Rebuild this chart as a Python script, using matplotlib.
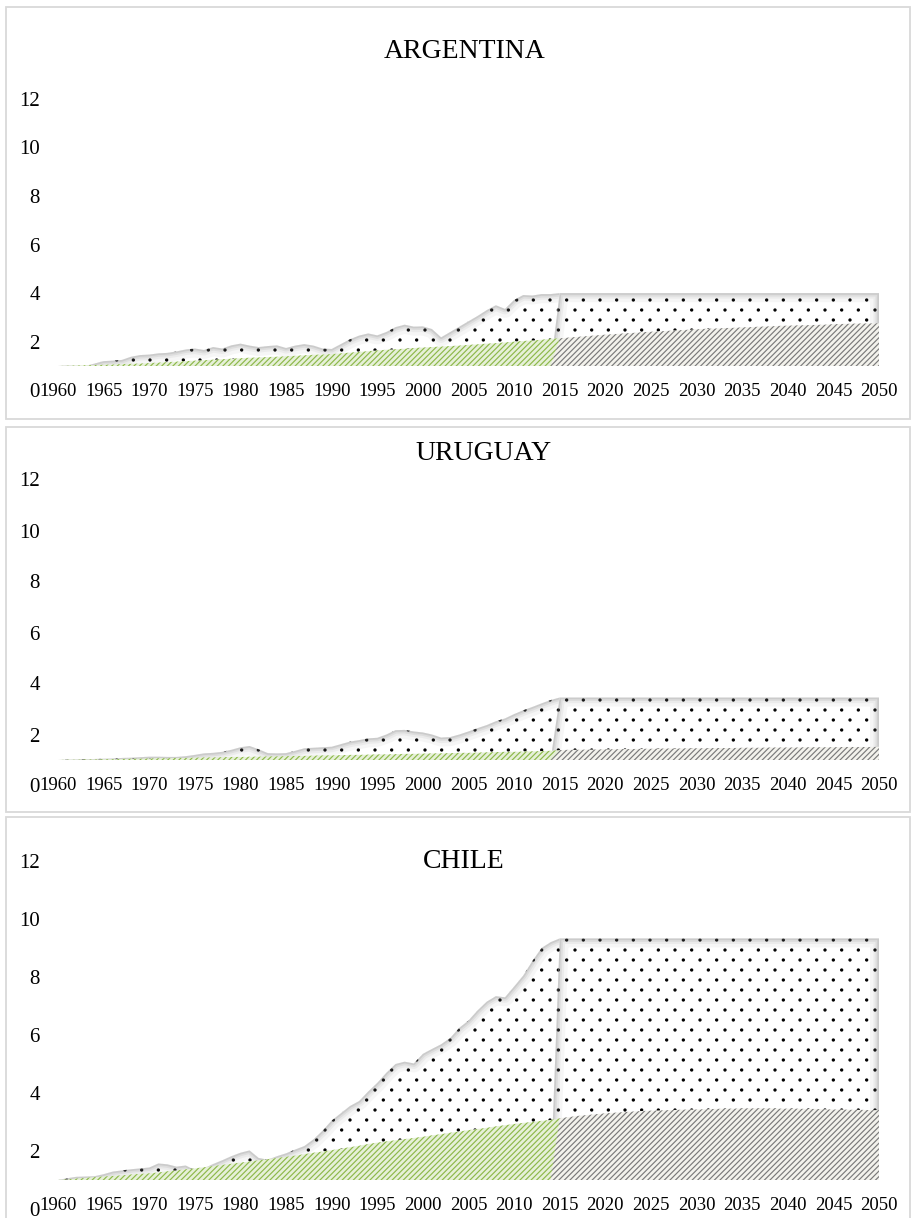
import matplotlib
matplotlib.use("Agg")
import numpy as np
import matplotlib.pyplot as plt
import matplotlib.hatch as mhatch
from matplotlib.path import Path
from matplotlib.patches import Rectangle

plt.rcParams['font.family'] = ['Liberation Serif', 'DejaVu Serif']
plt.rcParams['hatch.linewidth'] = 0.85


# Excel-like "dotted" texture: staggered rows of small dots (rows denser than columns)
class StaggeredDots(mhatch.HatchPatternBase):
    rows = 10
    cols = 6
    radius = 0.0105

    def __init__(self, hatch, density):
        circ = Path.unit_circle()
        self.sv = circ.vertices * self.radius
        self.sc = circ.codes
        self.centers = []
        if hatch.count('.') > 0:
            for r in range(self.rows + 1):
                yy = r / self.rows
                if r % 2 == 0:
                    xs = np.arange(self.cols + 1) / self.cols
                else:
                    xs = (np.arange(self.cols) + 0.5) / self.cols
                for xx in xs:
                    self.centers.append((xx, yy))
        self.num_vertices = len(self.centers) * len(self.sv)

    def set_vertices_and_codes(self, vertices, codes):
        np.concatenate([self.sv + np.array(c) for c in self.centers], out=vertices)
        np.concatenate([self.sc for _ in self.centers], out=codes)


mhatch._hatch_types = [t for t in mhatch._hatch_types
                       if t is not mhatch.SmallFilledCircles] + [StaggeredDots]

# ---------------- data ----------------
hist_years = list(range(1960, 2015))
proj_years = list(range(2015, 2051))
tick_years = list(range(1960, 2051, 5))
y_ticks = [0, 2, 4, 6, 8, 10, 12]
countries = ["ARGENTINA", "URUGUAY", "CHILE"]
base_value = 1.0

arg_total = [1.00, 1.02, 1.01, 1.00, 1.10, 1.20, 1.22, 1.25, 1.38, 1.45,
             1.47, 1.52, 1.54, 1.60, 1.68, 1.72, 1.66, 1.78, 1.72, 1.85,
             1.92, 1.84, 1.78, 1.82, 1.85, 1.74, 1.84, 1.90, 1.84, 1.72,
             1.70, 1.90, 2.10, 2.25, 2.34, 2.26, 2.40, 2.60, 2.70, 2.62,
             2.63, 2.52, 2.18, 2.40, 2.62, 2.84, 3.06, 3.30, 3.50, 3.35,
             3.72, 3.92, 3.90, 3.96, 3.96]
arg_part = [1.00, 1.01, 1.02, 1.03, 1.04, 1.05, 1.06, 1.08, 1.09, 1.10,
            1.12, 1.14, 1.16, 1.18, 1.20, 1.22, 1.24, 1.26, 1.28, 1.30,
            1.32, 1.34, 1.35, 1.37, 1.38, 1.40, 1.42, 1.44, 1.46, 1.47,
            1.49, 1.52, 1.55, 1.58, 1.61, 1.64, 1.67, 1.69, 1.71, 1.74,
            1.76, 1.78, 1.80, 1.82, 1.84, 1.87, 1.89, 1.92, 1.94, 1.97,
            2.00, 2.03, 2.05, 2.08, 2.12]
arg_total_proj = [4.00, 4.00, 4.00, 4.00, 4.00, 4.00, 4.00, 4.00, 4.00, 4.00,
                  4.00, 4.00, 4.00, 4.00, 4.00, 4.00, 4.00, 4.00, 4.00, 4.00,
                  4.00, 4.00, 4.00, 4.00, 4.00, 4.00, 4.00, 4.00, 4.00, 4.00,
                  4.00, 4.00, 4.00, 4.00, 4.00, 4.00]
arg_part_proj = [2.14, 2.17, 2.20, 2.23, 2.26, 2.29, 2.31, 2.34, 2.36, 2.39,
                 2.41, 2.43, 2.45, 2.47, 2.49, 2.51, 2.53, 2.54, 2.56, 2.57,
                 2.59, 2.60, 2.62, 2.63, 2.65, 2.66, 2.67, 2.68, 2.69, 2.70,
                 2.72, 2.73, 2.74, 2.75, 2.75, 2.76]

uru_total = [1.00, 1.01, 1.02, 1.03, 1.04, 1.05, 1.06, 1.08, 1.09, 1.11,
             1.13, 1.13, 1.12, 1.12, 1.15, 1.20, 1.26, 1.28, 1.32, 1.40,
             1.50, 1.55, 1.42, 1.27, 1.26, 1.27, 1.36, 1.46, 1.48, 1.50,
             1.52, 1.62, 1.72, 1.78, 1.85, 1.87, 2.00, 2.17, 2.18, 2.12,
             2.08, 2.00, 1.88, 1.90, 2.00, 2.12, 2.25, 2.37, 2.52, 2.63,
             2.80, 2.95, 3.08, 3.22, 3.35]
uru_part = [1.00, 1.01, 1.01, 1.02, 1.02, 1.03, 1.03, 1.04, 1.05, 1.05,
            1.06, 1.07, 1.07, 1.08, 1.08, 1.09, 1.10, 1.10, 1.11, 1.12,
            1.12, 1.13, 1.13, 1.14, 1.14, 1.15, 1.16, 1.16, 1.17, 1.18,
            1.18, 1.19, 1.20, 1.20, 1.21, 1.22, 1.22, 1.23, 1.24, 1.24,
            1.25, 1.26, 1.26, 1.27, 1.28, 1.28, 1.29, 1.30, 1.31, 1.32,
            1.32, 1.33, 1.34, 1.35, 1.36]
uru_total_proj = [3.45, 3.45, 3.45, 3.45, 3.45, 3.45, 3.45, 3.45, 3.45, 3.45,
                  3.45, 3.45, 3.45, 3.45, 3.45, 3.45, 3.45, 3.45, 3.45, 3.45,
                  3.45, 3.45, 3.45, 3.45, 3.45, 3.45, 3.45, 3.45, 3.45, 3.45,
                  3.45, 3.45, 3.45, 3.45, 3.45, 3.45]
uru_part_proj = [1.39, 1.40, 1.40, 1.41, 1.41, 1.42, 1.42, 1.43, 1.43, 1.44,
                 1.44, 1.45, 1.45, 1.45, 1.46, 1.46, 1.46, 1.47, 1.47, 1.47,
                 1.48, 1.48, 1.48, 1.49, 1.49, 1.49, 1.49, 1.50, 1.50, 1.50,
                 1.50, 1.51, 1.51, 1.51, 1.51, 1.52]

chl_total = [1.00, 1.06, 1.11, 1.12, 1.13, 1.20, 1.29, 1.33, 1.37, 1.40,
             1.43, 1.57, 1.54, 1.46, 1.50, 1.34, 1.40, 1.55, 1.68, 1.82,
             1.94, 2.02, 1.76, 1.70, 1.82, 1.92, 2.05, 2.17, 2.40, 2.70,
             3.05, 3.30, 3.55, 3.72, 4.05, 4.35, 4.70, 5.00, 5.08, 5.02,
             5.35, 5.52, 5.68, 5.90, 6.25, 6.50, 6.85, 7.15, 7.34, 7.30,
             7.67, 8.05, 8.55, 9.00, 9.20]
chl_part = [1.00, 1.02, 1.05, 1.07, 1.10, 1.12, 1.14, 1.16, 1.19, 1.21,
            1.23, 1.26, 1.30, 1.33, 1.37, 1.40, 1.44, 1.48, 1.52, 1.56,
            1.60, 1.64, 1.68, 1.72, 1.76, 1.80, 1.84, 1.89, 1.94, 1.98,
            2.03, 2.08, 2.13, 2.18, 2.24, 2.29, 2.33, 2.37, 2.41, 2.45,
            2.49, 2.54, 2.58, 2.63, 2.67, 2.72, 2.76, 2.80, 2.85, 2.89,
            2.93, 2.97, 3.00, 3.04, 3.07]
chl_total_proj = [9.33, 9.33, 9.33, 9.33, 9.33, 9.33, 9.33, 9.33, 9.33, 9.33,
                  9.33, 9.33, 9.33, 9.33, 9.33, 9.33, 9.33, 9.33, 9.33, 9.33,
                  9.33, 9.33, 9.33, 9.33, 9.33, 9.33, 9.33, 9.33, 9.33, 9.33,
                  9.33, 9.33, 9.33, 9.33, 9.33, 9.33]
chl_part_proj = [3.13, 3.17, 3.21, 3.24, 3.27, 3.30, 3.32, 3.34, 3.36, 3.38,
                 3.39, 3.40, 3.41, 3.42, 3.43, 3.43, 3.44, 3.45, 3.46, 3.46,
                 3.47, 3.47, 3.47, 3.47, 3.46, 3.46, 3.46, 3.45, 3.45, 3.44,
                 3.43, 3.43, 3.42, 3.42, 3.41, 3.41]

panel_data = [
    (arg_total, arg_part, arg_total_proj, arg_part_proj),
    (uru_total, uru_part, uru_total_proj, uru_part_proj),
    (chl_total, chl_part, chl_total_proj, chl_part_proj),
]

# ---------------- layout (pixels in a 912x1218 canvas) ----------------
W, H = 912, 1218
axes_geom = [(390.3, 24.3), (785.5, 25.5), (1209.0, 29.0)]   # (value-0 y px, px per unit)
x_left_px, x_right_px = 58, 879
title_pos = [(465, 52), (484, 454), (464, 862)]
frames = [(6, 7, 910, 419), (6, 427, 910, 812), (6, 817, 910, 1240)]

SHADOW = [(13, 0.06), (8, 0.08), (5, 0.11), (2.5, 0.16)]

fig = plt.figure(figsize=(W / 100, H / 100), dpi=100)

for (fx0, fy0, fx1, fy1) in frames:
    fig.patches.append(Rectangle((fx0 / W, 1 - fy1 / H), (fx1 - fx0) / W,
                                 (fy1 - fy0) / H, transform=fig.transFigure,
                                 fill=False, edgecolor='#d9d9d9', lw=1.3))


def edge_shadow(ax, coll, xs, ys):
    path = coll.get_paths()[0]
    for lw, a in SHADOW:
        ln, = ax.plot(xs, ys, color='#707070', lw=lw, alpha=a,
                      solid_joinstyle='round', solid_capstyle='butt',
                      zorder=coll.get_zorder() + 0.1)
        ln.set_clip_path(path, ax.transData)


for i, name in enumerate(countries):
    total, part, total_p, part_p = panel_data[i]
    y0px, ppu = axes_geom[i]
    ymax = y_ticks[-1]
    ax = fig.add_axes([x_left_px / W, 1 - y0px / H,
                       (x_right_px - x_left_px) / W, ymax * ppu / H])
    ax.set_xlim(hist_years[0], proj_years[-1])
    ax.set_ylim(0, ymax)
    for s in ax.spines.values():
        s.set_visible(False)
    ax.spines['bottom'].set_position(('data', base_value))
    ax.patch.set_visible(False)

    # historical total (dotted), running on to the first projected year
    hx = hist_years + [proj_years[0]]
    hy = total + [total_p[0]]
    c1 = ax.fill_between(hx, base_value, hy, facecolor='white', edgecolor='black',
                         hatch='.', linewidth=0, zorder=1)
    edge_shadow(ax, c1, hx, hy)

    # projected total (dotted), rising from the baseline at the last historical year
    px_ = [hist_years[-1]] + proj_years
    py_ = [base_value] + total_p
    c2 = ax.fill_between(px_, base_value, py_, facecolor='white',
                         edgecolor='black', hatch='.', linewidth=0, zorder=2)
    edge_shadow(ax, c2, px_ + [proj_years[-1]], py_ + [base_value])

    # historical component (green hatched)
    ax.fill_between(hx, base_value, part + [part_p[0]], facecolor='#e6f0d8',
                    edgecolor='#8db84a', hatch='//////', linewidth=0, zorder=3)
    # projected component (grey hatched)
    ax.fill_between(px_, base_value, [base_value] + part_p,
                    facecolor='#f3f2ec', edgecolor='#7a7a7a', hatch='//////',
                    linewidth=0, zorder=4)

    ax.set_yticks(y_ticks)
    ax.set_yticklabels([str(v) for v in y_ticks])
    ax.set_xticks(tick_years)
    ax.set_xticklabels([str(v) for v in tick_years])
    ax.tick_params(axis='y', length=0, pad=13, labelsize=15, colors='black')
    ax.tick_params(axis='x', length=0, pad=12, labelsize=13.5, colors='black')

    tx, ty = title_pos[i]
    fig.text(tx / W, 1 - ty / H, name, ha='center', va='center', fontsize=20)

fig.savefig('out.png', dpi=100, facecolor='white')
